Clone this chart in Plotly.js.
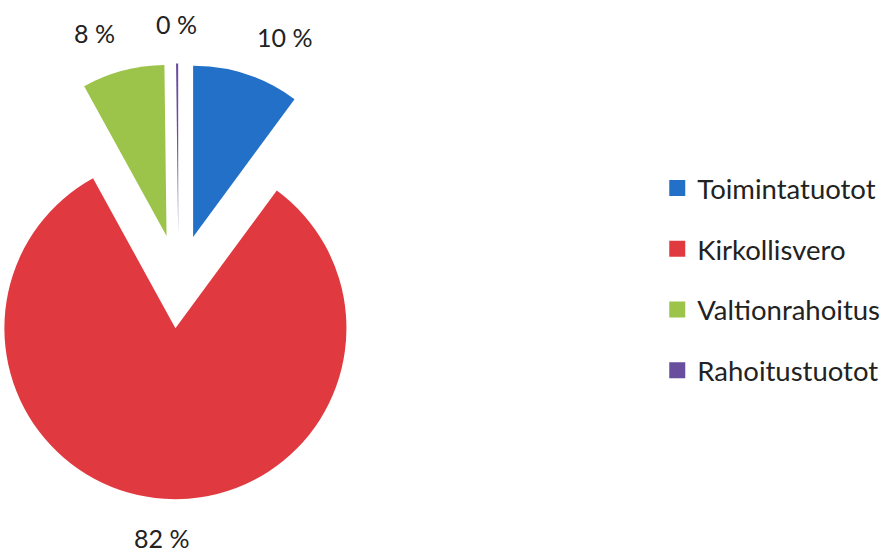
<!DOCTYPE html>
<html>
<head>
<meta charset="utf-8">
<script src="https://cdn.plot.ly/plotly-3.0.1.min.js"></script>
<style>
  html, body { margin: 0; padding: 0; overflow: hidden; background: #fff; }
  #chart { position: absolute; left: -50px; top: 0; width: 943px; height: 555px; }
</style>
</head>
<body>
<div id="chart"></div>
<script>
// Data
const categories = ["Toimintatuotot", "Kirkollisvero", "Valtionrahoitus", "Rahoitustuotot"];
const shares = [10.1, 81.9, 7.8, 0.2];
const colors = ["#2270C8", "#E03A40", "#9DC44A", "#6A4E9E"];

const total = shares.reduce((a, b) => a + b, 0);
const pctText = shares.map(v => Math.round(v / total * 100) + " %");

// Layout constants (pixels in the 943x555 figure)
const W = 943, H = 555;
const pieCx = 228.5, pieCy = 281.4;   // pie centre
const pieOuter = 217.9;               // radius incl. pull
const labelR = 257;                   // label distance from centre
const labelFont = { family: "Lato, 'Open Sans', sans-serif", size: 25, color: "#222222" };

const pie = {
  type: "pie",
  labels: categories,
  values: shares,
  textinfo: "none",
  sort: false,
  direction: "clockwise",
  rotation: 0,
  pull: [0.274, 0.274, 0.274, 0.274],
  marker: { colors: colors, line: { width: 0 } },
  domain: {
    x: [(pieCx - pieOuter) / W, (pieCx + pieOuter) / W],
    y: [(H - pieCy - pieOuter) / H, (H - pieCy + pieOuter) / H]
  },
  showlegend: false,
  hoverinfo: "skip"
};

// percentage labels placed along each slice's bisector
let cum = 0;
const annotations = shares.map((v, i) => {
  const mid = (cum + v / 2) / total * 2 * Math.PI;
  cum += v;
  const s = Math.sin(mid), c = Math.cos(mid);
  const px = pieCx + labelR * s - (s > 0.1 ? 4 : 0) + (s < -0.1 ? 4 : 0);
  const py = pieCy - labelR * c;
  return {
    xref: "paper", yref: "paper",
    x: px / W, y: (H - py) / H,
    xanchor: Math.abs(s) < 0.1 ? "center" : (s > 0 ? "left" : "right"),
    yanchor: "middle",
    text: pctText[i],
    showarrow: false,
    font: labelFont
  };
});

const legendTraces = categories.map((c, i) => ({
  type: "scatter",
  x: [null], y: [null],
  mode: "markers",
  name: c,
  legendgroup: "g" + i,
  marker: { symbol: "square", size: 16, color: colors[i] },
  hoverinfo: "skip"
}));

const layout = {
  width: W,
  height: H,
  margin: { l: 0, r: 0, t: 0, b: 0 },
  paper_bgcolor: "#ffffff",
  plot_bgcolor: "#ffffff",
  xaxis: { visible: false },
  yaxis: { visible: false },
  showlegend: true,
  annotations: annotations,
  legend: {
    x: 0.75, xanchor: "left",
    y: 0.497, yanchor: "middle",
    tracegroupgap: 22,
    font: { family: "Lato, 'Open Sans', sans-serif", size: 27.5, color: "#222222" },
    itemclick: false, itemdoubleclick: false
  }
};

Plotly.newPlot("chart", [pie].concat(legendTraces), layout, { displayModeBar: false, staticPlot: true });
</script>
</body>
</html>
